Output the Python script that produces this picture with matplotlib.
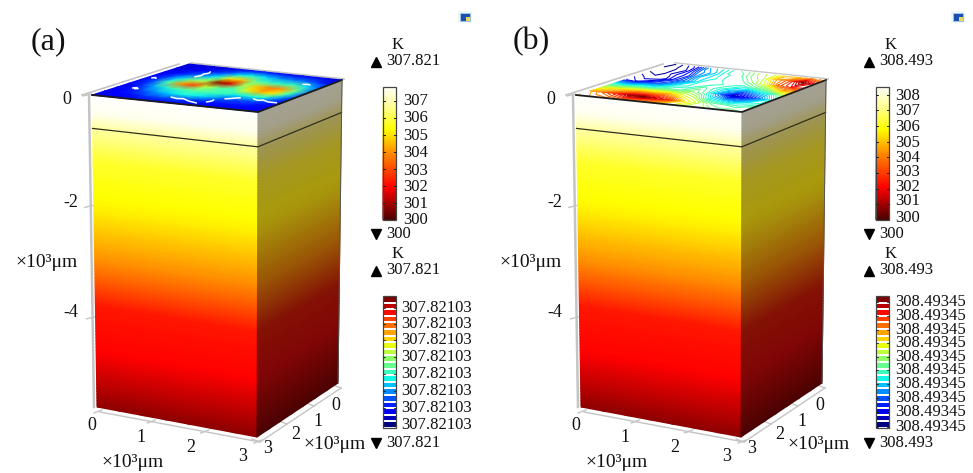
import numpy as np
import matplotlib
matplotlib.use("Agg")
import matplotlib.pyplot as plt
from matplotlib.colors import LinearSegmentedColormap, Normalize
from matplotlib.patches import Rectangle

plt.rcParams['font.family'] = ['Liberation Serif', 'DejaVu Serif']

# ---------- data ----------
depth_nodes = [0, -0.35, -0.6, -1.2, -2.0, -2.4, -3.0, -3.8, -4.6, -5.2, -5.6]
temp_a = [307.82, 307.60, 306.80, 305.70, 305.20, 304.70, 303.90, 302.20, 301.90, 301.20, 300.70]
temp_b = [308.49, 308.25, 307.38, 306.19, 305.65, 305.10, 304.23, 302.39, 302.06, 301.30, 300.76]
range_a = [307.82, 300.0]
range_b = [308.49, 300.0]

axis_x = [0, 1, 2, 3]
axis_y = [0, 1, 2, 3]
axis_z = [0, -2, -4]
box_depth = -5.6
layer_depth = -0.6

cbar_ticks_a = ['307', '306', '305', '304', '303', '302', '301', '300']
cbar_ticks_b = ['308', '307', '306', '305', '304', '303', '302', '301', '300']
level_label_a = '307.82103'
level_label_b = '308.49345'
max_a, min_a = '307.821', '300'
max_b, min_b = '308.493', '300'
lev_max_a, lev_min_a = '307.821', '307.821'
lev_max_b, lev_min_b = '308.493', '308.493'

# surface temperature, scaled 0..1 (rows: front to back, columns: x = 0 to 3)
surface_a = np.array([
 [.10,.10,.10,.10,.10,.10,.10,.10,.10,.10,.10,.10,.10],
 [.10,.12,.14,.18,.20,.20,.18,.16,.14,.14,.14,.12,.10],
 [.10,.14,.20,.28,.34,.38,.36,.30,.22,.20,.20,.16,.12],
 [.10,.16,.30,.40,.44,.46,.44,.42,.36,.38,.38,.26,.14],
 [.12,.20,.44,.76,.84,.58,.46,.42,.62,.72,.66,.42,.20],
 [.12,.18,.34,.50,.56,1.0,.92,.56,.70,.78,.74,.48,.24],
 [.10,.14,.20,.28,.38,.66,.70,.48,.42,.42,.44,.34,.20],
 [.08,.10,.12,.16,.22,.34,.38,.34,.28,.26,.24,.18,.12],
 [.08,.08,.08,.08,.10,.12,.14,.12,.10,.10,.10,.08,.08]])

surface_b = np.array([
 [.70,.74,.75,.78,.72,.74,.66,.64,.56,.57,.50,.52,.48],
 [.72,.80,.88,.97,1.0,.93,.86,.68,.60,.48,.46,.43,.50],
 [.60,.66,.69,.74,.72,.74,.63,.57,.38,.32,.28,.37,.40],
 [.40,.36,.42,.40,.47,.46,.52,.43,.24,.03,.12,.23,.42],
 [.15,.10,.17,.23,.37,.40,.47,.40,.32,.23,.32,.38,.57],
 [.10,.06,.05,.17,.28,.42,.40,.44,.40,.47,.53,.72,.73],
 [.05,.03,.10,.16,.34,.38,.44,.43,.52,.63,.82,.90,.87],
 [.02,.04,.08,.24,.31,.42,.43,.52,.58,.74,.83,1.0,.88],
 [.00,.06,.13,.30,.36,.44,.48,.57,.60,.70,.70,.77,.70]])

# white out-of-range streaks on surface (a), as (x, y) in axis units
streak_x = [[.26, .30, .36, .32], [.09, .13, .17], [.66, .70, .67, .71, .67],
            [1.18, 1.32, 1.42, 1.60, 1.78], [1.88, 1.92, 1.90], [2.02, 2.10, 2.14, 2.20],
            [2.43, 2.55, 2.62, 2.76, 2.92], [2.58, 2.66, 2.72]]
streak_y = [[2.18, 2.12, 2.18, 2.22], [1.30, 1.24, 1.30], [.89, .75, .62, .52, .41],
            [2.55, 2.62, 2.58, 2.72, 2.80], [2.65, 2.55, 2.44], [2.28, 2.20, 2.14, 2.09],
            [2.06, 2.14, 2.08, 2.18, 2.18], [.62, .58, .62]]

# ---------- layout ----------
W, H = 973, 473
TOP = {'FL': (92, 95), 'F': (258, 112), 'R': (342, 80), 'B': (189, 64)}
BOT = {'FL': (97, 407), 'F': (257, 437), 'R': (338, 383), 'B': (180, 355)}

heat = LinearSegmentedColormap.from_list('heat', [
    (0.00, (0.30, 0.00, 0.00)), (0.24, (1.00, 0.00, 0.00)), (0.50, (1.00, 0.55, 0.00)),
    (0.68, (1.00, 1.00, 0.00)), (0.84, (1.00, 1.00, 0.55)), (1.00, (1.00, 1.00, 1.00))])
heat_side = LinearSegmentedColormap.from_list('heat_side', [
    (0.00, (0.18, 0.00, 0.00)), (0.24, (0.50, 0.02, 0.02)), (0.50, (0.60, 0.33, 0.02)),
    (0.68, (0.66, 0.60, 0.05)), (0.84, (0.62, 0.58, 0.30)), (1.00, (0.64, 0.63, 0.58))])


def proj(x, y, z, dx=0):
    """Map axis units (x, y in 0..3, z negative) to picture pixels."""
    x, y, z = np.asarray(x, float), np.asarray(y, float), np.asarray(z, float)
    s, t, d = x / 3, 1 - y / 3, z / box_depth
    out = []
    for k in (0, 1):
        top = (1 - s) * (1 - t) * TOP['FL'][k] + s * (1 - t) * TOP['F'][k] + s * t * TOP['R'][k] + (1 - s) * t * TOP['B'][k]
        bot = (1 - s) * (1 - t) * BOT['FL'][k] + s * (1 - t) * BOT['F'][k] + s * t * BOT['R'][k] + (1 - s) * t * BOT['B'][k]
        out.append(top + (bot - top) * d)
    return out[0] + dx, out[1]


fig = plt.figure(figsize=(W / 100, H / 100), dpi=100)
ax = fig.add_axes([0, 0, 1, 1])
ax.set_xlim(0, W)
ax.set_ylim(H, 0)
ax.axis('off')

GREY = '#c4c4c4'


def draw_box(dx, temps, trange, surface, contours):
    norm = Normalize(trange[1], trange[0])
    zz = np.linspace(0, box_depth, 100)
    tt = np.interp(-zz, -np.array(depth_nodes), temps)
    # front face
    xs = np.linspace(0, 3, 8)
    Xg, Zg = np.meshgrid(xs, zz)
    Tg = np.tile(tt[:, None], (1, len(xs)))
    px, py = proj(Xg, np.full_like(Xg, 3.0), Zg, dx)
    ax.pcolormesh(px, py, Tg, cmap=heat, norm=norm, shading='gouraud', zorder=2)
    # right face
    ys = np.linspace(0, 3, 8)
    Yg, Zg2 = np.meshgrid(ys, zz)
    px, py = proj(np.full_like(Yg, 3.0), Yg, Zg2, dx)
    ax.pcolormesh(px, py, np.tile(tt[:, None], (1, len(ys))), cmap=heat_side, norm=norm, shading='gouraud', zorder=2)
    # top face
    sx = np.linspace(0, 3, surface.shape[1])
    sy = np.linspace(3, 0, surface.shape[0])
    Xs, Ys = np.meshgrid(sx, sy)
    px, py = proj(Xs, Ys, np.zeros_like(Xs), dx)
    if contours:
        ex, ey = proj(np.array([0, 3, 3, 0]), np.array([3, 3, 0, 0]), np.zeros(4), dx)
        ax.fill(ex, ey, color='white', zorder=2)
        ax.contour(px, py, surface, levels=np.linspace(0.015, 0.99, 32), cmap='jet',
                   linewidths=0.75, zorder=3)
    else:
        ax.pcolormesh(px, py, surface, cmap='jet', vmin=0, vmax=1, shading='gouraud', zorder=3)
        for sxs, sys in zip(streak_x, streak_y):
            qx, qy = proj(np.array(sxs), np.array(sys), np.zeros(len(sxs)), dx)
            ax.plot(qx, qy, color='white', lw=1.1, solid_capstyle='round', zorder=4)
    # box edges
    ex, ey = proj(np.array([0, 3, 3]), np.array([3, 3, 0]), np.zeros(3), dx)
    ax.plot(ex, ey, color='#1c1c1c', lw=1.3, zorder=6)
    ex, ey = proj(np.array([0, 3, 3]), np.array([3, 3, 0]), np.full(3, layer_depth), dx)
    ax.plot(ex, ey, color='#30301c', lw=0.9, zorder=6)
    ex, ey = proj(np.array([3, 3]), np.array([0, 0]), np.array([0, box_depth]), dx)
    ax.plot(ex, ey, color='#555555', lw=0.7, zorder=6)
    # grey axis frame
    ex, ey = proj(np.array([0, 0]), np.array([3, 3]), np.array([0, box_depth]), dx)
    ax.plot(ex - 3, ey, color=GREY, lw=1.8, zorder=1)
    ex, ey = proj(np.array([0, 0]), np.array([3, 0]), np.zeros(2), dx)
    ax.plot(ex - 10, ey, color=GREY, lw=1.2, zorder=1)
    ex, ey = proj(np.array([0, 3]), np.array([0, 0]), np.zeros(2), dx)
    ax.plot(ex + 2, ey - 1, color=GREY, lw=1.2, zorder=1)
    ex, ey = proj(np.array([0, 3, 3]), np.array([3, 3, 0]), np.full(3, box_depth), dx)
    ax.plot(ex + 3, ey + 5, color=GREY, lw=1.0, zorder=1)
    for v in axis_x:
        bx, by = proj(v, 3, box_depth, dx)
        ax.plot([bx - 3, bx + 5], [by + 6, by + 3], color=GREY, lw=1.0, zorder=1)
    for v in axis_y:
        bx, by = proj(3, v, box_depth, dx)
        ax.plot([bx - 5, bx + 3], [by + 2, by + 5], color=GREY, lw=1.0, zorder=1)
    for v in axis_z:
        bx, by = proj(0, 3, v, dx)
        ax.plot([bx - 9, bx - 1], [by + 1, by - 1], color=GREY, lw=1.0, zorder=1)


def num(x, y, s, size=12, ha='center', va='center'):
    ax.text(x, y, s, fontsize=size, ha=ha, va=va, color='#111111', zorder=8)


def cbar_cont(bx, trange, labels, label_y, lbl_x):
    top, bottom, w = 87, 220, 13
    vals = np.linspace(trange[0], trange[1], 120)
    Xc, Yc = np.meshgrid([bx, bx + w], np.linspace(top, bottom, 120))
    ax.pcolormesh(Xc, Yc, np.c_[vals, vals], cmap=heat, vmin=trange[1], vmax=trange[0], shading='gouraud', zorder=3)
    ax.add_patch(Rectangle((bx, top), w, bottom - top, fill=False, ec='#444444', lw=0.9, zorder=4))
    for lab, y in zip(labels, label_y):
        num(lbl_x, y, lab, ha='left')
    for lab in labels[:-1]:
        y = top + (trange[0] - float(lab)) / (trange[0] - trange[1]) * (bottom - top)
        ax.plot([bx, bx + 2], [y, y], color='#222222', lw=0.7, zorder=5)
        ax.plot([bx + w - 2, bx + w], [y, y], color='#222222', lw=0.7, zorder=5)


def cbar_levels(bx, label, label_y, lbl_x, n=20):
    top, bottom, w = 296, 428, 13
    cmap = matplotlib.colormaps['jet']
    edges = np.linspace(top, bottom, n + 1)
    h = edges[1] - edges[0]
    colors = [cmap(1 - i / (n - 1)) for i in range(n)]
    ax.bar(np.full(n, bx + w / 2), np.full(n, h - 2.0), width=w, bottom=edges[:-1] + 1.0, color=colors, zorder=3)
    ax.add_patch(Rectangle((bx, top), w, bottom - top, fill=False, ec='#444444', lw=0.9, zorder=4))
    for y in label_y:
        num(lbl_x, y, label, ha='left')
        ax.plot([bx, bx + 2], [y, y], color='#222222', lw=0.6, zorder=5)
        ax.plot([bx + w - 2, bx + w], [y, y], color='#222222', lw=0.6, zorder=5)


def minmax(tx, top_y, bot_y, tmax, tmin):
    num(tx + 22, top_y - 16, 'K')
    ax.plot(tx, top_y + 1, marker='^', ms=6.5, color='black', ls='none', zorder=8)
    num(tx + 10, top_y, tmax, ha='left')
    ax.plot(tx, bot_y, marker='v', ms=6.5, color='black', ls='none', zorder=8)
    num(tx + 10, bot_y, tmin, ha='left')


def icon(x, y):
    ax.add_patch(Rectangle((x - 7, y - 6), 14, 12, fc='#eef8fc', ec='none', zorder=3))
    ax.add_patch(Rectangle((x - 5, y - 4), 10, 8, fc='#1a4fb0', ec='#a8c8e0', lw=0.6, zorder=4))
    ax.add_patch(Rectangle((x + 1, y), 4, 4, fc='#e8d65a', ec='none', zorder=5))


draw_box(0, temp_a, range_a, surface_a, False)
draw_box(484, temp_b, range_b, surface_b, True)

# panel letters
ax.text(48, 42, '(a)', fontsize=23, ha='center', va='center', color='#111111')
ax.text(531, 42, '(b)', fontsize=23, ha='center', va='center', color='#111111')

# axis tick labels
xlab_pos = [(92, 425), (141, 437), (191, 447), (243, 456)]
ylab_pos = [(336, 405), (318, 421), (296, 434), (268, 448)]
zlab_pos = [(67, 99), (71, 202), (71, 312)]
for off in (0, 484):
    for v, (x, y) in zip(axis_x, xlab_pos):
        num(x + off, y, str(v), size=13)
    for v, (x, y) in zip(axis_y, ylab_pos):
        num(x + off, y, str(v), size=13)
    for v, (x, y) in zip(axis_z, zlab_pos):
        num(x + off, y, str(v), size=13)
    num(133 + off, 462, '×10³μm', size=14)
    num(335 + off, 444, '×10³μm', size=14)
    num(47 + off, 262, '×10³μm', size=14)

# colour bars
cbar_cont(383, range_a, cbar_ticks_a, [101, 118, 136, 153, 171, 187, 204, 220], 403)
cbar_cont(876, range_b, cbar_ticks_b, [96, 111, 127, 143, 158, 172, 187, 201, 218], 895)
cbar_levels(383, level_label_a, [308, 324, 340, 357, 374, 391, 408, 425], 401)
cbar_levels(876, level_label_b, [302, 316, 330, 343, 357, 370, 384, 398, 412, 427], 895)
minmax(376, 61, 234, max_a, min_a)
minmax(869, 61, 234, max_b, min_b)
minmax(376, 270, 443, lev_max_a, lev_min_a)
minmax(869, 270, 443, lev_max_b, lev_min_b)
icon(465, 17)
icon(958, 17)

fig.savefig('out.png', dpi=100, facecolor='white')
